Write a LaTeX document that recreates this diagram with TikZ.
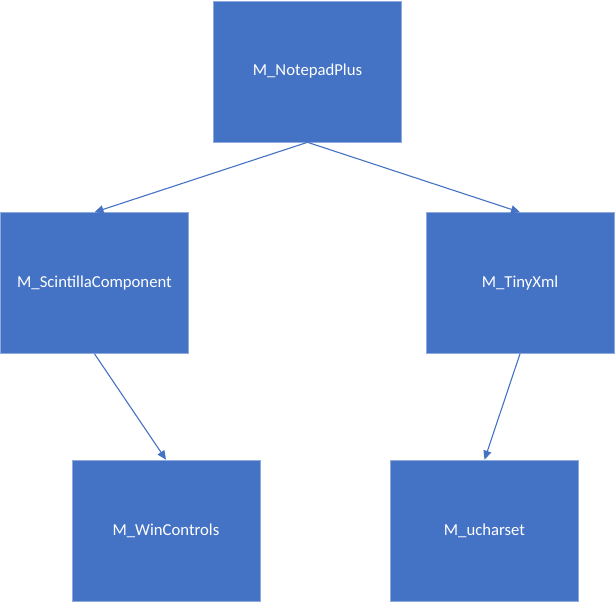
\documentclass[tikz,border=0pt]{standalone}
\usepackage{fontspec}
\setmainfont{Carlito}
\usetikzlibrary{arrows.meta}
\definecolor{boxfill}{HTML}{4472C4}
\definecolor{boxline}{HTML}{8FAADC}
\begin{document}
\begin{tikzpicture}[x=1pt,y=-1pt,
  mod/.style={draw=boxline,line width=0.6pt,fill=boxfill,text=white,minimum width=188pt,minimum height=141pt,inner sep=0pt,font=\fontsize{16.7}{19}\selectfont},
  link/.style={draw=boxfill,line width=1.1pt,-{Triangle[length=9pt,width=8pt]}}]
\useasboundingbox (0,0) rectangle (615,603);
\node[mod] (np) at (307.5,71.5) {M\_NotepadPlus};
\node[mod] (sc) at (94.5,283) {M\_ScintillaComponent};
\node[mod] (tx) at (520,283) {M\_TinyXml};
\node[mod] (wc) at (166,530.5) {M\_WinControls};
\node[mod] (uc) at (484.5,530.5) {M\_ucharset};
\draw[link] (np.south) -- (sc.north);
\draw[link] (np.south) -- (tx.north);
\draw[link] (sc.south) -- (wc.north);
\draw[link] (tx.south) -- (uc.north);
\end{tikzpicture}
\end{document}
